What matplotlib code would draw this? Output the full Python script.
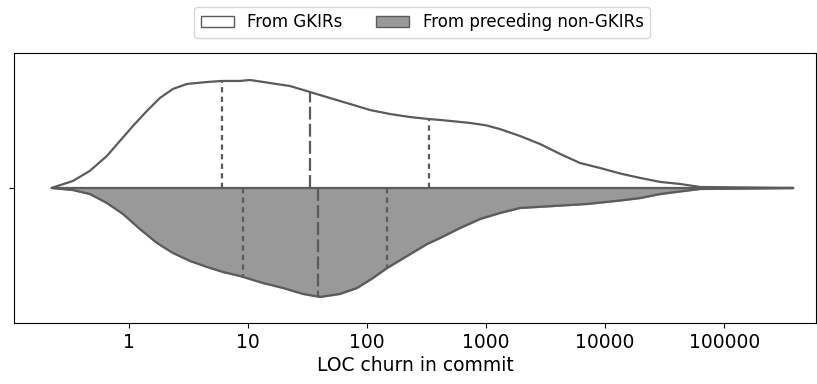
import numpy as np
import matplotlib
matplotlib.use("Agg")
import matplotlib.pyplot as plt
from matplotlib.patches import Patch

# log10(LOC churn) grid and relative density
gkir_x = [-0.65, -0.47, -0.33, -0.185, -0.076, 0.034, 0.151, 0.26, 0.37,
          0.487, 0.655, 0.78, 0.933, 1.017, 1.185, 1.353, 1.521, 1.689,
          1.857, 2.025, 2.193, 2.361, 2.513, 2.613, 2.866, 3.0, 3.118, 3.286,
          3.454, 3.622, 3.79, 3.958, 4.126, 4.294, 4.462, 4.63, 4.798, 5.58]
gkir_d = [0.0, 0.065, 0.157, 0.296, 0.435, 0.574, 0.713, 0.833, 0.917,
          0.963, 0.981, 0.991, 0.991, 1.0, 0.972, 0.944, 0.889, 0.833,
          0.778, 0.722, 0.685, 0.657, 0.639, 0.63, 0.602, 0.58, 0.545, 0.481,
          0.407, 0.315, 0.231, 0.185, 0.134, 0.093, 0.056, 0.037, 0.009, 0.0]
gkir_quart = [0.78, 1.52, 2.52]

prev_x = [-0.647, -0.47, -0.328, -0.185, -0.05, 0.092, 0.235, 0.37, 0.513,
          0.655, 0.79, 0.933, 1.126, 1.294, 1.462, 1.605, 1.773, 1.916,
          2.05, 2.168, 2.336, 2.504, 2.613, 2.782, 2.95, 3.118, 3.286,
          3.563, 3.849, 4.126, 4.294, 4.462, 4.63, 4.798, 5.58]
prev_d = [0.0, 0.019, 0.056, 0.139, 0.241, 0.38, 0.509, 0.602, 0.676,
          0.731, 0.778, 0.815, 0.88, 0.926, 0.981, 1.009, 0.981, 0.926,
          0.833, 0.741, 0.63, 0.519, 0.463, 0.37, 0.287, 0.231, 0.185,
          0.167, 0.148, 0.116, 0.093, 0.056, 0.032, 0.009, 0.0]
prev_quart = [0.96, 1.59, 2.17]

tick_pos = [0, 1, 2, 3, 4, 5]
tick_labels = ["1", "10", "100", "1000", "10000", "100000"]

edge = "#5b5b5b"
fill = "#999999"
half = 0.4

fig = plt.figure(figsize=(8.17, 3.84), dpi=100)
ax = fig.add_axes([0.017, 0.159, 0.982, 0.703])

gx = np.array(gkir_x)
gy = np.array(gkir_d) * half
px = np.array(prev_x)
py = np.array(prev_d) * half

# y axis inverted like seaborn: upper half is negative
ax.fill_between(gx, 0, -gy, color="white", zorder=1)
ax.plot(gx, -gy, color=edge, lw=1.6, zorder=3, solid_capstyle="round",
        solid_joinstyle="round")
ax.fill_between(px, 0, py, color=fill, zorder=1)
ax.plot(px, py, color=edge, lw=1.6, zorder=3, solid_capstyle="round",
        solid_joinstyle="round")
ax.plot([gx[0], gx[-1]], [0, 0], color=edge, lw=1.6, zorder=3,
        solid_capstyle="round")

for i, q in enumerate(gkir_quart):
    h = np.interp(q, gx, gy)
    d = (5.8, 1.9) if i == 1 else (2.4, 1.9)
    ax.plot([q, q], [0, -h], color=edge, lw=1.6, dashes=d, zorder=2)
for i, q in enumerate(prev_quart):
    h = np.interp(q, px, py)
    d = (5.8, 1.9) if i == 1 else (2.4, 1.9)
    ax.plot([q, q], [0, h], color=edge, lw=1.6, dashes=d, zorder=2)

ax.set_xlim(-0.966, 5.773)
ax.set_ylim(0.5, -0.5)
ax.set_yticks([0])
ax.set_yticklabels([""])
ax.set_xticks(tick_pos)
ax.set_xticklabels(tick_labels, fontsize=13.5)
ax.set_xlabel("LOC churn in commit", fontsize=13.5, labelpad=3)

handles = [Patch(facecolor="white", edgecolor=edge, label="From GKIRs"),
           Patch(facecolor=fill, edgecolor=edge, label="From preceding non-GKIRs")]
ax.legend(handles=handles, loc="lower center", bbox_to_anchor=(0.509, 1.025),
          ncol=2, fontsize=12, frameon=True)

fig.savefig("out.png", dpi=100)
